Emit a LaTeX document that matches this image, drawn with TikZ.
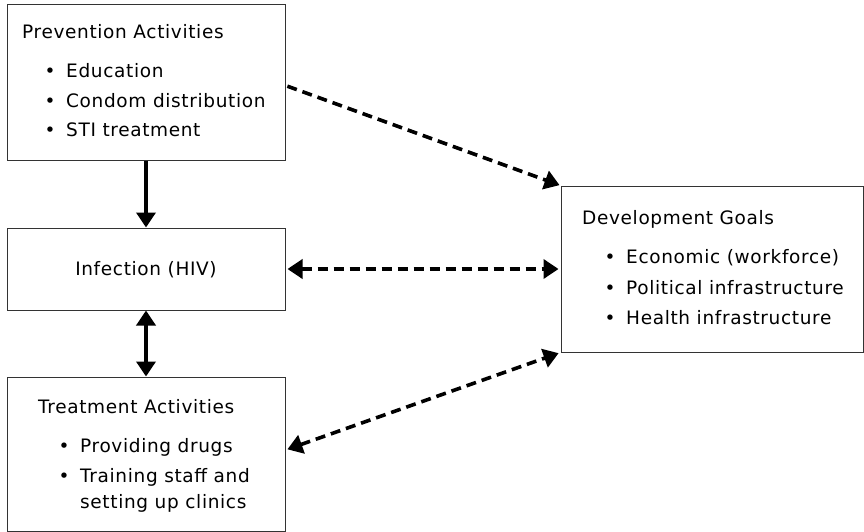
\documentclass[tikz,border=0pt]{standalone}
\usepackage{fontspec}
\setmainfont{DejaVu Sans}[LetterSpace=3.5]
\usetikzlibrary{arrows.meta}
\begin{document}
\begin{tikzpicture}[x=1pt,y=-1pt,
  box/.style={draw=black!80,line width=1pt,inner sep=0pt,fill=white},
  txt/.style={anchor=base west,inner sep=0pt,font=\fontsize{18.5}{22}\selectfont},
  ctxt/.style={anchor=base,inner sep=0pt,font=\fontsize{18.5}{22}\selectfont},
  bul/.style={anchor=base,inner sep=0pt,font=\fontsize{18.5}{22}\selectfont},
  link/.style={line width=3.6pt,
    -{Triangle[length=15pt,width=19pt]}},
  twoway/.style={line width=3.6pt,
    {Triangle[length=15pt,width=19pt]}-{Triangle[length=15pt,width=19pt]}},
  dashlink/.style={link,dash pattern=on 10pt off 6pt},
  dashtwoway/.style={twoway,dash pattern=on 10pt off 6pt}]
\useasboundingbox (0,0) rectangle (864,532);

% boxes
\node[box,minimum width=278pt,minimum height=155pt] (prev) at (146,82.5) {};
\node[box,minimum width=278pt,minimum height=82pt] (inf) at (146,269) {};
\node[box,minimum width=278pt,minimum height=154pt] (treat) at (146,454) {};
\node[box,minimum width=302pt,minimum height=166pt] (dg) at (712,269) {};

% prevention activities
\node[txt] (prevT) at (22,39) {Prevention Activities};
\node[bul] (pb1) at (50,78) {•};
\node[txt] (p1) at (66,78) {Education};
\node[bul] (pb2) at (50,108) {•};
\node[txt] (p2) at (66,108) {Condom distribution};
\node[bul] (pb3) at (50,136) {•};
\node[txt] (p3) at (66,136) {STI treatment};

% infection
\node[ctxt] (infT) at (146,275) {Infection (HIV)};

% treatment activities
\node[txt] (treatT) at (38,413) {Treatment Activities};
\node[bul] (tb1) at (64,452) {•};
\node[txt] (t1) at (80,452) {Providing drugs};
\node[bul] (tb2) at (64,482) {•};
\node[txt] (t2) at (80,482) {Training staff and};
\node[txt] (t3) at (80,508) {setting up clinics};

% development goals
\node[txt] (dgT) at (582,224) {Development Goals};
\node[bul] (db1) at (610,263) {•};
\node[txt] (d1) at (626,263) {Economic (workforce)};
\node[bul] (db2) at (610,294) {•};
\node[txt] (d2) at (626,294) {Political infrastructure};
\node[bul] (db3) at (610,324) {•};
\node[txt] (d3) at (626,324) {Health infrastructure};

% connectors
\draw[link] (prev.south) -- (inf.north);
\draw[twoway] (inf.south) -- (treat.north);
\draw[dashlink,shorten <=2pt,shorten >=1pt] ([yshift=-3pt]prev.east) -- (dg.north west);
\draw[dashtwoway,shorten <=2pt,shorten >=2pt] (inf.east) -- (dg.west);
\draw[dashtwoway,shorten <=2pt,shorten >=2pt] ([yshift=4pt]treat.east) -- (dg.south west);
\end{tikzpicture}
\end{document}
